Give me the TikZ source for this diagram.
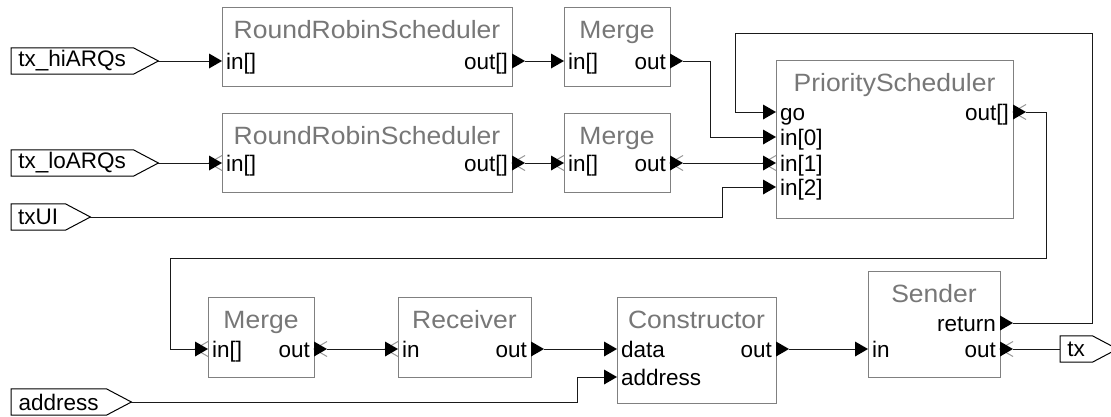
\documentclass[tikz,border=0pt]{standalone}
\usepackage{fontspec}
\setmainfont{Liberation Sans}
\newfontfamily\titlefont[FakeStretch=1.06]{Liberation Sans}
\definecolor{boxgray}{HTML}{808080}
\definecolor{titlegray}{HTML}{777777}
\definecolor{hollowgray}{HTML}{999999}
\definecolor{wirecol}{HTML}{1A1A1A}
\begin{document}
\begin{tikzpicture}[x=1pt,y=-1pt,
  blk/.style={draw=boxgray, line width=1pt, fill=white, inner sep=0pt, anchor=north west},
  ttl/.style={text=titlegray, font=\titlefont\fontsize{25}{25}\selectfont, inner sep=0pt, anchor=base},
  lblw/.style={font=\fontsize{22.5}{22.5}\selectfont, inner sep=0pt, anchor=base west},
  lble/.style={font=\fontsize{22.5}{22.5}\selectfont, inner sep=0pt, anchor=base east},
  ext/.style={font=\fontsize{22.5}{22.5}\selectfont, inner sep=0pt, minimum height=26pt, anchor=west},
  pent/.style={draw=black, line width=1pt},
  wire/.style={draw=wirecol, line width=1pt},
  hollowtri/.style={draw=hollowgray, line width=1pt},
  portin/.pic={\fill[black] (-13,-7.5) -- (0,0) -- (-13,7.5) -- cycle;
               \coordinate (-end) at (-13,0);},
  portinx/.pic={\draw[hollowtri] (0,-7.5) -- (-13,0) -- (0,7.5);
                \fill[black] (-13,-7.5) -- (0,0) -- (-13,7.5) -- cycle;
                \coordinate (-end) at (-13,0);},
  portout/.pic={\fill[black] (0,-7.5) -- (13,0) -- (0,7.5) -- cycle;
                \coordinate (-end) at (13,0);},
  portoutx/.pic={\draw[hollowtri] (13,-7.5) -- (0,0) -- (13,7.5);
                 \fill[black] (0,-7.5) -- (13,0) -- (0,7.5) -- cycle;
                 \coordinate (-end) at (13,0);},
]
\useasboundingbox[fill=white] (0,0) rectangle (1111,416);

% ---------- actor boxes ----------
\node[blk, minimum width=290, minimum height=79] (rr1) at (222,7) {};
\node[blk, minimum width=106, minimum height=79] (m1)  at (564,7) {};
\node[blk, minimum width=290, minimum height=79] (rr2) at (222,113) {};
\node[blk, minimum width=106, minimum height=79] (m2)  at (564,113) {};
\node[blk, minimum width=237, minimum height=158] (ps) at (776,60) {};
\node[blk, minimum width=106, minimum height=80] (m3)  at (208,297) {};
\node[blk, minimum width=133, minimum height=80] (rcv) at (398,297) {};
\node[blk, minimum width=159, minimum height=106] (con) at (617,297) {};
\node[blk, minimum width=132, minimum height=106] (snd) at (868,271) {};

% ---------- titles ----------
\node[ttl] (rr1t) at (367,38)   {RoundRobinScheduler};
\node[ttl] (m1t)  at (617,38)   {Merge};
\node[ttl] (rr2t) at (367,144)  {RoundRobinScheduler};
\node[ttl] (m2t)  at (617,144)  {Merge};
\node[ttl] (pst)  at (894.5,91) {PriorityScheduler};
\node[ttl] (m3t)  at (261,328)  {Merge};
\node[ttl] (rcvt) at (464.5,328){Receiver};
\node[ttl] (cont) at (696.5,328){Constructor};
\node[ttl] (sndt) at (934,302)  {Sender};

% ---------- port labels ----------
\node[lblw] (rr1il) at (226,69) {in[]};
\node[lble] (rr1ol) at (508,69) {out[]};
\node[lblw] (m1il)  at (568,69) {in[]};
\node[lble] (m1ol)  at (666,69) {out};
\node[lblw] (rr2il) at (226,171) {in[]};
\node[lble] (rr2ol) at (508,171) {out[]};
\node[lblw] (m2il)  at (568,171) {in[]};
\node[lble] (m2ol)  at (666,171) {out};
\node[lblw] (psgl)  at (780,120) {go};
\node[lblw] (ps0l)  at (780,145) {in[0]};
\node[lblw] (ps1l)  at (780,171) {in[1]};
\node[lblw] (ps2l)  at (780,195) {in[2]};
\node[lble] (psol)  at (1009,120) {out[]};
\node[lblw] (m3il)  at (212,357) {in[]};
\node[lble] (m3ol)  at (310,357) {out};
\node[lblw] (rcvil) at (402,357) {in};
\node[lble] (rcvol) at (527,357) {out};
\node[lblw] (condl) at (621,357) {data};
\node[lblw] (conal) at (621,385) {address};
\node[lble] (conol) at (772,357) {out};
\node[lblw] (sndil) at (872,357) {in};
\node[lble] (sndrl) at (996,331) {return};
\node[lble] (sndol) at (996,357) {out};

% ---------- external ports ----------
\node[ext, minimum width=122] (hi) at (11,61)  {tx\_hiARQs};
\node[ext, minimum width=122] (lo) at (11,163) {tx\_loARQs};
\node[ext, minimum width=54]  (ui) at (11,217) {txUI};
\node[ext, minimum width=95]  (ad) at (11,402) {address};
\node[ext, minimum width=32]  (tx) at (1060,349) {tx};
\foreach \n in {hi,lo,ui,ad,tx}{
  \draw[pent] (\n.north west) -- (\n.north east) -- ([xshift=25pt]\n.east)
    -- (\n.south east) -- (\n.south west) -- cycle;
  \coordinate (\n-tip) at ([xshift=25pt]\n.east);
}

% ---------- port markers ----------
\pic (rr1-in)  at (222,61)   {portin};
\pic (rr1-out) at (512,61)   {portout};
\pic (m1-in)   at (564,61)   {portin};
\pic (m1-out)  at (670,61)   {portout};
\pic (rr2-in)  at (222,163)  {portinx};
\pic (rr2-out) at (512,163)  {portoutx};
\pic (m2-in)   at (564,163)  {portinx};
\pic (m2-out)  at (670,163)  {portoutx};
\pic (ps-go)   at (776,112)  {portin};
\pic (ps-in0)  at (776,137)  {portin};
\pic (ps-in1)  at (776,163)  {portinx};
\pic (ps-in2)  at (776,187)  {portin};
\pic (ps-out)  at (1013,112) {portoutx};
\pic (m3-in)   at (208,349)  {portinx};
\pic (m3-out)  at (314,349)  {portoutx};
\pic (rcv-in)  at (398,349)  {portinx};
\pic (rcv-out) at (531,349)  {portout};
\pic (con-dat) at (617,349)  {portin};
\pic (con-adr) at (617,377)  {portin};
\pic (con-out) at (776,349)  {portout};
\pic (snd-in)  at (868,349)  {portin};
\pic (snd-ret) at (1000,323) {portout};
\pic (snd-out) at (1000,349) {portoutx};

% ---------- bend points ----------
\coordinate (loopL) at (170,258);
\coordinate (goTop) at (735,33);

% ---------- connections ----------
\draw[wire] (hi-tip) -- (rr1-in-end);
\draw[wire] (rr1-out-end) -- (m1-in-end);
\draw[wire] (m1-out-end) -- ++(27,0) |- (ps-in0-end);
\draw[wire] (lo-tip) -- (rr2-in-end);
\draw[wire] (rr2-out-end) -- (m2-in-end);
\draw[wire] (m2-out-end) -- (ps-in1-end);
\draw[wire] (ui-tip) -- ++(632,0) |- (ps-in2-end);
\draw[wire] (ps-out-end) -- ++(20,0) |- (loopL) |- (m3-in-end);
\draw[wire] (snd-ret-end) -- ++(79,0) |- (goTop) |- (ps-go-end);
\draw[wire] (m3-out-end) -- (rcv-in-end);
\draw[wire] (rcv-out-end) -- (con-dat-end);
\draw[wire] (ad-tip) -- ++(446,0) |- (con-adr-end);
\draw[wire] (con-out-end) -- (snd-in-end);
\draw[wire] (tx.west) -- (snd-out-end);
\end{tikzpicture}
\end{document}
